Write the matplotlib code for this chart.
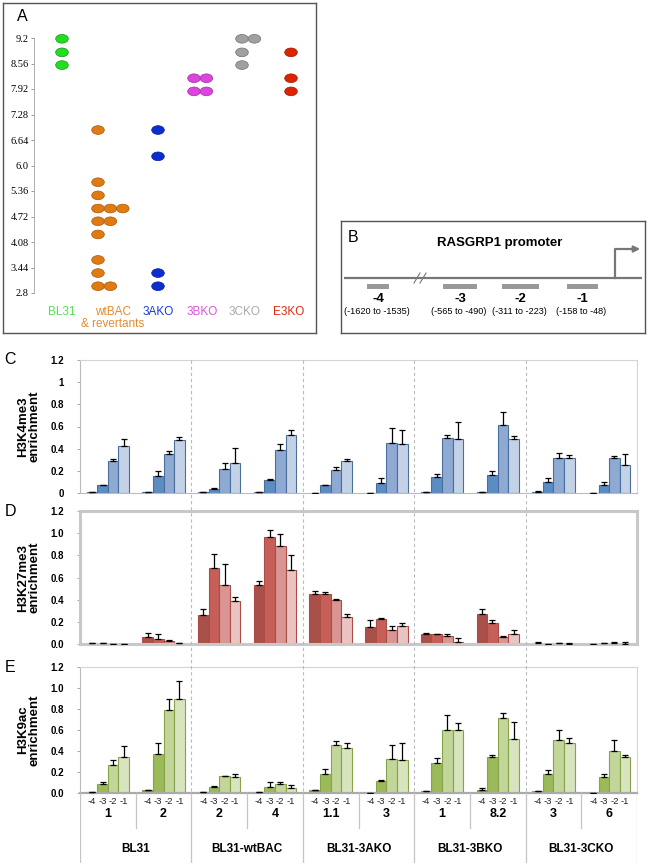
import numpy as np
import matplotlib
matplotlib.use("Agg")
import matplotlib.pyplot as plt
from matplotlib.patches import Ellipse, Rectangle

plt.rcParams['font.family'] = ['Liberation Sans', 'DejaVu Sans']

W, H = 651, 868

# ---- panel A data ----
a_groups = ['BL31', 'wtBAC\n& revertants', '3AKO', '3BKO', '3CKO', 'E3KO']
a_values = [
    [9.18, 8.84, 8.52],
    [6.89, 5.58, 5.25, 4.92, 4.92, 4.92, 4.60, 4.60, 4.27, 3.63, 3.30, 2.97, 2.97],
    [6.89, 6.23, 3.30, 2.97],
    [8.19, 8.19, 7.86, 7.86],
    [9.18, 9.18, 8.84, 8.52],
    [8.84, 8.19, 7.86],
]
a_ticks = [2.8, 3.44, 4.08, 4.72, 5.36, 6.0, 6.64, 7.28, 7.92, 8.56, 9.2]
a_ticklabels = ['2.8', '3.44', '4.08', '4.72', '5.36', '6.0', '6.64', '7.28', '7.92', '8.56', '9.2']

# ---- panel B data ----
b_regions = ['-4', '-3', '-2', '-1']
b_ranges = ['(-1620 to -1535)', '(-565 to -490)', '(-311 to -223)', '(-158 to -48)']

# ---- panels C-E data ----
primers = ['-4', '-3', '-2', '-1']
clones = ['1', '2', '2', '4', '1.1', '3', '1', '8.2', '3', '6']
lines = ['BL31', 'BL31-wtBAC', 'BL31-3AKO', 'BL31-3BKO', 'BL31-3CKO']

k4_m4 = [0.005, 0.005, 0.005, 0.005, 0.003, 0.003, 0.01, 0.01, 0.01, 0.002]
k4_m3 = [0.07, 0.15, 0.04, 0.12, 0.07, 0.09, 0.14, 0.16, 0.10, 0.07]
k4_m2 = [0.29, 0.35, 0.22, 0.39, 0.21, 0.45, 0.50, 0.61, 0.32, 0.32]
k4_m1 = [0.42, 0.48, 0.27, 0.525, 0.285, 0.445, 0.49, 0.485, 0.32, 0.25]
k4_e4 = [0, 0, 0, 0, 0, 0, 0.003, 0.003, 0.005, 0]
k4_e3 = [0.005, 0.05, 0.005, 0.01, 0.005, 0.045, 0.03, 0.035, 0.035, 0.03]
k4_e2 = [0.015, 0.025, 0.05, 0.05, 0.025, 0.135, 0.02, 0.12, 0.04, 0.01]
k4_e1 = [0.07, 0.025, 0.14, 0.045, 0.025, 0.125, 0.15, 0.03, 0.02, 0.10]

k27_m4 = [0.008, 0.06, 0.26, 0.535, 0.45, 0.155, 0.09, 0.275, 0.008, 0.004]
k27_m3 = [0.005, 0.045, 0.69, 0.965, 0.455, 0.23, 0.088, 0.19, 0.003, 0.008]
k27_m2 = [0.003, 0.03, 0.53, 0.885, 0.40, 0.13, 0.075, 0.063, 0.006, 0.012]
k27_m1 = [0.002, 0.008, 0.39, 0.665, 0.24, 0.16, 0.02, 0.093, 0.0, 0.0]
k27_e4 = [0.004, 0.04, 0.055, 0.033, 0.025, 0.06, 0.005, 0.045, 0.006, 0.0]
k27_e3 = [0.002, 0.045, 0.12, 0.065, 0.01, 0.006, 0.003, 0.03, 0.0, 0.004]
k27_e2 = [0.0, 0.01, 0.19, 0.11, 0.008, 0.03, 0.015, 0.005, 0.006, 0.004]
k27_e1 = [0.0, 0.005, 0.03, 0.135, 0.03, 0.025, 0.035, 0.035, 0.012, 0.02]

k9_m4 = [0.008, 0.03, 0.005, 0.005, 0.025, 0.0, 0.02, 0.025, 0.018, 0.0]
k9_m3 = [0.085, 0.375, 0.058, 0.055, 0.18, 0.112, 0.285, 0.345, 0.185, 0.152]
k9_m2 = [0.265, 0.795, 0.16, 0.087, 0.46, 0.325, 0.60, 0.715, 0.505, 0.40]
k9_m1 = [0.343, 0.895, 0.152, 0.045, 0.43, 0.318, 0.60, 0.515, 0.478, 0.343]
k9_e4 = [0.003, 0.003, 0.002, 0.003, 0.005, 0.0, 0.003, 0.025, 0.003, 0.0]
k9_e3 = [0.018, 0.105, 0.005, 0.05, 0.045, 0.008, 0.045, 0.015, 0.03, 0.03]
k9_e2 = [0.05, 0.105, 0.006, 0.018, 0.035, 0.13, 0.145, 0.045, 0.095, 0.105]
k9_e1 = [0.105, 0.175, 0.03, 0.03, 0.045, 0.16, 0.07, 0.165, 0.05, 0.02]


def box(x0, y0, x1, y1):
    return [x0 / W, 1 - y1 / H, (x1 - x0) / W, (y1 - y0) / H]


fig = plt.figure(figsize=(W / 100, H / 100), dpi=100)

# ================= panel A =================
axA = fig.add_axes(box(3, 3, 316, 333))
axA.set_xlim(3, 316)
axA.set_ylim(333, 3)
axA.set_xticks([])
axA.set_yticks([])
for s in axA.spines.values():
    s.set_color('#555555')
    s.set_linewidth(1.0)
axA.text(17, 17, 'A', fontsize=11.5, va='center', ha='left')

a_colors = ['#22dd22', '#e07a12', '#0a2ed0', '#dd44dd', '#a0a0a0', '#dd2200']
a_edges = ['#119911', '#a85a0a', '#061c90', '#a030a0', '#707070', '#a01800']
a_txtcol = ['#55dd55', '#e68a2e', '#1a3bd6', '#dd55dd', '#aaaaaa', '#dd2a10']
a_base = [62, 98, 158, 194, 242, 291]
a_labx = [62, 113, 158, 202, 244, 289]

axA2 = fig.add_axes(box(34, 38, 316, 293))
axA2.set_xlim(34, 316)
axA2.set_ylim(2.8, 9.2)
axA2.patch.set_alpha(0)
for s in axA2.spines.values():
    s.set_visible(False)
axA2.spines['left'].set_visible(True)
axA2.spines['left'].set_color('#b0b0b0')
axA2.spines['left'].set_linewidth(0.7)
axA2.set_xticks([])
axA2.set_yticks(a_ticks)
axA2.set_yticklabels(a_ticklabels, family='Liberation Serif', fontsize=7.5)
axA2.tick_params(axis='y', length=2.5, width=0.6, color='#888888', pad=1.5)
ell_h = 8.7 * 6.4 / 255
for i, vals in enumerate(a_values):
    seen = {}
    for v in vals:
        k = seen.get(v, 0)
        seen[v] = k + 1
        e = Ellipse((a_base[i] + k * 12.4, v), 12.6, ell_h, facecolor=a_colors[i],
                    edgecolor=a_edges[i], linewidth=0.5, clip_on=False)
        axA2.add_patch(e)
    axA.text(a_labx[i], 306, a_groups[i], color=a_txtcol[i], fontsize=8.5,
             ha='center', va='top', linespacing=1.05)

# ================= panel B =================
axB = fig.add_axes(box(341, 221, 645, 333))
axB.set_xlim(341, 645)
axB.set_ylim(333, 221)
axB.set_xticks([])
axB.set_yticks([])
for s in axB.spines.values():
    s.set_color('#555555')
    s.set_linewidth(1.0)
axB.text(353, 237, 'B', fontsize=11.5, va='center', ha='center')
axB.text(500, 243, 'RASGRP1 promoter', fontsize=9.5, fontweight='bold', ha='center', va='center')
gl = '#777777'
axB.plot([344, 642], [278, 278], color=gl, lw=1.6, solid_capstyle='butt')
axB.plot([615, 615, 634], [278, 249, 249], color=gl, lw=1.6)
axB.annotate('', xy=(643, 249), xytext=(630, 249),
             arrowprops=dict(arrowstyle='-|>', color=gl, lw=1.6, mutation_scale=9))
axB.add_patch(Rectangle((417, 274), 10, 8, facecolor='white', edgecolor='none'))
axB.plot([414, 420], [283, 273], color=gl, lw=0.8)
axB.plot([420, 426], [283, 273], color=gl, lw=0.8)
b_x0 = [367, 443, 502, 567]
b_x1 = [389, 477, 539, 598]
for i in range(4):
    axB.add_patch(Rectangle((b_x0[i], 284), b_x1[i] - b_x0[i], 5, facecolor='#999999',
                            edgecolor='none'))
    cx = (b_x0[i] + b_x1[i]) / 2
    axB.text(cx, 299, b_regions[i], fontsize=9.5, fontweight='bold', ha='center', va='center')
    axB.text(cx - 1, 312, b_ranges[i], fontsize=6.6, ha='center', va='center')

# ================= panels C-E =================
bw = 0.19
offs = [(j - 1.5) * bw for j in range(4)]
xc = np.arange(10) + 0.5


def bar_panel(rect, means, errs, colors, edge, letter, ylabel, fmt, frame_lw, frame_col):
    ax = fig.add_axes(rect)
    for j in range(4):
        x = xc + offs[j]
        ax.bar(x, means[j], width=bw, color=colors[j], edgecolor=edge, linewidth=0.8, zorder=2)
        ax.errorbar(x, means[j], yerr=[np.zeros(10), errs[j]], fmt='none', ecolor='black',
                    elinewidth=0.9, capsize=2.3, capthick=0.9, zorder=3)
    ax.set_xlim(0, 10)
    ax.set_ylim(0, 1.2)
    ax.set_yticks(np.arange(0, 1.21, 0.2))
    ax.set_yticklabels([fmt(v) for v in np.arange(0, 1.21, 0.2)], fontsize=7, fontweight='bold')
    ax.set_xticks([])
    ax.tick_params(axis='y', length=2.5, width=0.6, color='#999999', pad=9)
    for s in ax.spines.values():
        s.set_color(frame_col)
        s.set_linewidth(frame_lw)
    ax.set_ylabel(ylabel, fontsize=9.5, fontweight='bold', labelpad=7, linespacing=1.0)
    ax.text(-0.125, 1.0, letter, transform=ax.transAxes, fontsize=11.5, ha='center', va='center')
    ax.patch.set_alpha(0)
    return ax


def f_c(v):
    r = round(v, 1)
    return '%g' % r


def f_de(v):
    return '%.1f' % v


blue = ['#4a7ab2', '#5b8cc3', '#8eaad3', '#c4d2e7']
red = ['#a9504a', '#c55f57', '#d99593', '#e9c4c2']
green = ['#7d9b3f', '#9bbb5a', '#c2d69a', '#d8e4bd']

axC = bar_panel(box(80, 360, 637, 493), [k4_m4, k4_m3, k4_m2, k4_m1],
                [k4_e4, k4_e3, k4_e2, k4_e1], blue, '#4a6f9c', 'C',
                'H3K4me3\nenrichment', f_c, 0.8, '#d4d4d4')
axC.spines['left'].set_color('#bbbbbb')
axC.spines['bottom'].set_color('#bbbbbb')
axD = bar_panel(box(80, 511, 637, 644), [k27_m4, k27_m3, k27_m2, k27_m1],
                [k27_e4, k27_e3, k27_e2, k27_e1], red, '#ad4c46', 'D',
                'H3K27me3\nenrichment', f_de, 2.2, '#c8c8c8')
axE = bar_panel(box(80, 667, 637, 793), [k9_m4, k9_m3, k9_m2, k9_m1],
                [k9_e4, k9_e3, k9_e2, k9_e1], green, '#86a34b', 'E',
                'H3K9ac\nenrichment', f_de, 0.8, '#d4d4d4')
axE.spines['bottom'].set_color('#aaaaaa')
axE.spines['bottom'].set_linewidth(1.6)
axE.spines['left'].set_color('#bbbbbb')

# overlay for separators and category labels
axO = fig.add_axes(box(80, 360, 637, 863))
axO.set_xlim(0, 10)
axO.set_ylim(863, 360)
axO.axis('off')
axO.patch.set_alpha(0)
for gx in [2, 4, 6, 8]:
    axO.plot([gx, gx], [360, 793], color='#bbbbbb', lw=0.8, ls=(0, (3, 2.5)), zorder=1)
for gx in [0, 2, 4, 6, 8, 10]:
    axO.plot([gx, gx], [793, 863], color='#c4c4c4', lw=0.9)
for gx in [1, 3, 5, 7, 9]:
    axO.plot([gx, gx], [793, 828], color='#c4c4c4', lw=0.9)
for i in range(10):
    for j in range(4):
        axO.text(xc[i] + offs[j], 801, primers[j], fontsize=6.8, ha='center', va='center',
                 color='#222222')
    axO.text(xc[i], 814, clones[i], fontsize=9, fontweight='bold', ha='center', va='center')
for g in range(5):
    axO.text(2 * g + 1, 849, lines[g], fontsize=8.5, fontweight='bold', ha='center', va='center')

fig.savefig('out.png', dpi=100)
